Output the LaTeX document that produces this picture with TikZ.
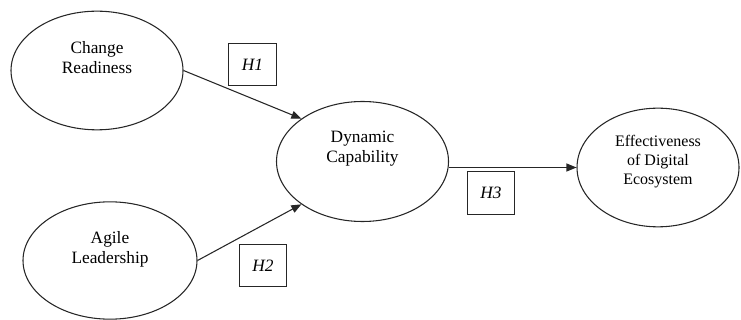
\documentclass[tikz,border=0pt]{standalone}
\usepackage{fontspec}
\setmainfont{Liberation Serif}
\usetikzlibrary{shapes.geometric, arrows.meta, positioning}

\begin{document}
\begin{tikzpicture}[
    x=0.75pt, y=-0.75pt,
    construct/.style = {
        ellipse, draw=black!85, line width=0.8pt,
        minimum width=129pt, minimum height=89pt,
        align=center, font=\fontsize{13}{15}\selectfont
    },
    hyp/.style = {
        rectangle, draw=black!85, line width=0.8pt,
        minimum width=35.5pt, minimum height=32pt, inner sep=0pt,
        font=\fontsize{13}{15}\selectfont\itshape
    },
    arr/.style = {-{Triangle[length=7.5pt, width=6pt]}, line width=0.8pt, black!85}
]
\useasboundingbox (0,0) rectangle (741,320);
% constructs
\node[construct, text depth=20pt] (ready) at (97,70.5) {Change\\Readiness};
\node[construct, text depth=19pt, minimum width=130.5pt, minimum height=88pt]
    (agile) at (110,260.5) {Agile\\Leadership};
\node[construct, text depth=22.5pt, minimum height=90pt]
    (dyncap) at (362.5,161.5) {Dynamic\\Capability};
\node[construct, text depth=11.5pt, minimum width=121.5pt,
      font=\fontsize{12}{14.2}\selectfont]
    (effect) at (658,167.5) {Effectiveness\\of Digital\\Ecosystem};
% hypotheses
\node[hyp] (h1) at (252.5,64.5) {H1};
\node[hyp] (h2) at (263,265.5) {H2};
\node[hyp] (h3) at (491,193) {H3};
% paths
\draw[arr] (ready.east) -- (dyncap.145);
\draw[arr] (agile.east) -- (dyncap.215);
\draw[arr] (effect.west -| dyncap.east) -- (effect.west);
\end{tikzpicture}
\end{document}
